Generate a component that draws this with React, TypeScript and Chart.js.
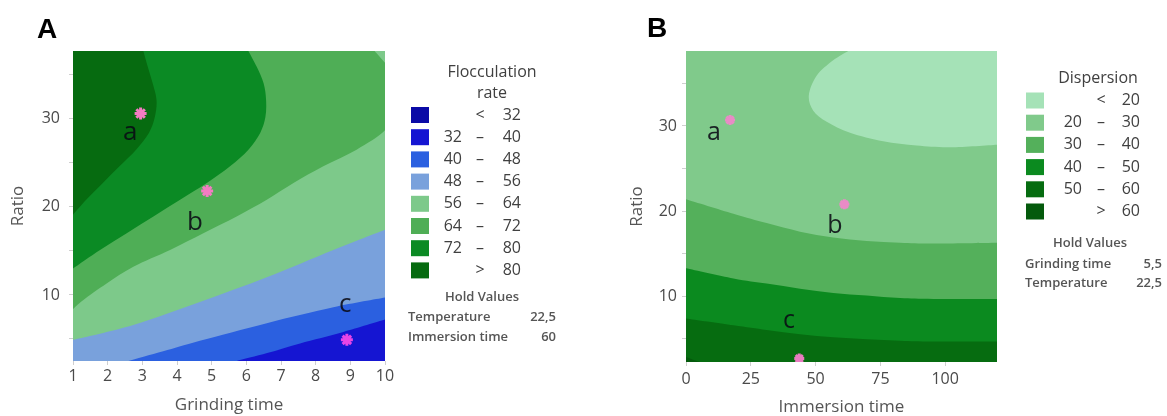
import React, { useEffect, useRef } from 'react';
import { Chart, registerables } from 'chart.js';

Chart.register(...registerables);

type Pt = [number, number];

// ---------------- Panel A : Flocculation rate ----------------
const grindingRangeA: Pt = [1, 10];
const ratioRangeA: Pt = [2.5, 37.7];
const grindingStepA = 1;
const ratioStep = 5;
const levelsA = [32, 40, 48, 56, 64, 72, 80];
const colorsA = ['#0a0aa6', '#1515d2', '#2b60e0', '#79a1dc', '#7dc98a', '#4fae56', '#0b8a24', '#066b10'];
// contour lines: [Grinding time, Ratio]
const contourA40: Pt[] = [[5.72, 2.5], [6.6, 3.4], [7.55, 4.5], [8.8, 5.8], [10, 7.2]];
const contourA48: Pt[] = [[2.6, 2.5], [3.6, 3.6], [4.66, 4.8], [6.59, 6.8], [8.51, 8.6], [10, 9.7]];
const contourA56: Pt[] = [[1, 4.9], [2.74, 6.6], [4.66, 9.2], [6.59, 12.0], [8.51, 15.1], [10, 17.4]];
const contourA64: Pt[] = [[1, 8.4], [1.29, 9.4], [1.97, 11.3], [2.74, 13.2], [3.8, 15.1], [4.76, 17.0], [5.72, 18.9], [6.59, 20.8], [7.36, 22.7], [8.22, 24.6], [9.18, 26.5], [10, 28.7], [10.3, 31], [10.4, 33], [10.2, 35.3], [9.7, 37.7]];
const contourA72: Pt[] = [[1, 13.0], [1.78, 15.1], [2.55, 17.0], [3.32, 18.9], [4.09, 20.8], [4.86, 22.7], [5.53, 24.6], [6.06, 26.5], [6.4, 28.4], [6.55, 30.2], [6.57, 32.1], [6.5, 34.0], [6.3, 35.9], [6.06, 37.7]];
const contourA80: Pt[] = [[1, 19.1], [1.38, 20.8], [1.86, 22.7], [2.34, 24.6], [2.82, 26.5], [3.19, 28.4], [3.36, 30.2], [3.41, 32.1], [3.3, 34.0], [3.15, 36.0], [3.03, 37.7]];
const pointXA = [2.95, 4.87, 8.9];
const pointYA = [30.6, 21.8, 4.9];
const pointColorA = ['#f27cc2', '#f27cc2', '#e845e6'];
const letterA = ['a', 'b', 'c'];
const letterXA = [2.65, 4.52, 8.85];
const letterYA = [27.6, 17.4, 8.1];
const holdNamesA = ['Temperature', 'Immersion time'];
const holdValuesA = ['22,5', '60'];

// ---------------- Panel B : Dispersion ----------------
const immersionRangeB: Pt = [0, 120];
const ratioRangeB: Pt = [2.3, 38.8];
const immersionStepB = 25;
const levelsB = [20, 30, 40, 50, 60];
const colorsB = ['#a5e2b7', '#80ca8b', '#54b05b', '#0b8a1f', '#066c10', '#045a0c'];
// contour lines: [Immersion time, Ratio]
const contourB20: Pt[] = [[62.6, 38.8], [56.8, 37.7], [50.4, 35.9], [47.4, 33.6], [49.1, 31.8], [54.3, 30.5], [63.3, 29.2], [76.1, 28.2], [89, 27.7], [102, 27.5], [120, 27.8]];
const contourB30: Pt[] = [[0, 21.4], [18.3, 19.7], [31.1, 18.6], [44, 17.6], [56.8, 16.9], [69.7, 16.5], [82.6, 16.3], [95.4, 16.2], [120, 16.3]];
const contourB40: Pt[] = [[0, 13.3], [18.3, 12.1], [31.1, 11.5], [44, 10.9], [56.8, 10.4], [69.7, 10.1], [82.6, 9.8], [95.4, 9.7], [120, 9.7]];
const contourB50: Pt[] = [[0, 7.4], [18.3, 6.6], [31.1, 6.05], [44, 5.55], [56.8, 5.2], [69.7, 4.96], [82.6, 4.8], [95.4, 4.7], [120, 4.7]];
const contourB60: Pt[] = [[0, 2.9], [2.5, 2.6], [5.4, 2.3]];
const pointXB = [17.0, 61.1, 43.7];
const pointYB = [30.7, 20.8, 2.7];
const pointColorB = ['#e98bc6', '#e98bc6', '#e87cc0'];
const letterB = ['a', 'b', 'c'];
const letterXB = [10.8, 57.5, 39.7];
const letterYB = [28.3, 17.4, 6.25];
const holdNamesB = ['Grinding time', 'Temperature'];
const holdValuesB = ['5,5', '22,5'];

// ---------------- helpers ----------------
const FONT = '"Open Sans", "Noto Sans", sans-serif';
const TEXT = '#4a4a4a';

type Region = { color: string; curve: Pt[]; close: Pt[] };

function smoothPath(ctx: CanvasRenderingContext2D, pts: Pt[]) {
  const n = pts.length;
  ctx.moveTo(pts[0][0], pts[0][1]);
  for (let i = 0; i < n - 1; i++) {
    const p0 = pts[Math.max(i - 1, 0)];
    const p1 = pts[i];
    const p2 = pts[i + 1];
    const p3 = pts[Math.min(i + 2, n - 1)];
    ctx.bezierCurveTo(
      p1[0] + (p2[0] - p0[0]) / 6, p1[1] + (p2[1] - p0[1]) / 6,
      p2[0] - (p3[0] - p1[0]) / 6, p2[1] - (p3[1] - p1[1]) / 6,
      p2[0], p2[1]
    );
  }
}

function contourPlugin(base: string, regions: Region[]) {
  return {
    id: 'contourFill',
    beforeDatasetsDraw(chart: any) {
      const { ctx, chartArea: a, scales } = chart;
      const px = (p: Pt): Pt => [scales.x.getPixelForValue(p[0]), scales.y.getPixelForValue(p[1])];
      ctx.save();
      ctx.beginPath();
      ctx.rect(a.left, a.top, a.right - a.left, a.bottom - a.top);
      ctx.clip();
      ctx.fillStyle = base;
      ctx.fillRect(a.left, a.top, a.right - a.left, a.bottom - a.top);
      for (const r of regions) {
        ctx.beginPath();
        smoothPath(ctx, r.curve.map(px));
        for (const c of r.close) {
          const q = px(c);
          ctx.lineTo(q[0], q[1]);
        }
        ctx.closePath();
        ctx.fillStyle = r.color;
        ctx.fill();
      }
      ctx.restore();
    },
  };
}

function lettersPlugin(texts: string[], xs: number[], ys: number[], size: number) {
  return {
    id: 'pointLetters',
    afterDatasetsDraw(chart: any) {
      const { ctx, scales } = chart;
      ctx.save();
      ctx.font = `${size}px ${FONT}`;
      ctx.fillStyle = 'rgba(10,10,20,0.88)';
      ctx.textAlign = 'center';
      ctx.textBaseline = 'alphabetic';
      texts.forEach((t, i) => {
        ctx.fillText(t, scales.x.getPixelForValue(xs[i]), scales.y.getPixelForValue(ys[i]));
      });
      ctx.restore();
    },
  };
}

type LegendSpec = {
  panel: string; panelX: number; panelY: number;
  title: string[]; titleX: number; titleY: number[];
  colors: string[]; lows: string[]; signs: string[]; highs: string[];
  rowY: number; rowStep: number; boxX: number;
  lowRight: number; signX: number; highRight: number;
  holdX: number; holdY: number; holdNames: string[]; holdValues: string[];
  holdLabelX: number; holdValueRight: number; holdRowY: number[];
};

function legendPlugin(s: LegendSpec) {
  return {
    id: 'sideLegend',
    afterDraw(chart: any) {
      const ctx: CanvasRenderingContext2D = chart.ctx;
      ctx.save();
      ctx.fillStyle = '#000';
      ctx.font = `bold 28px "Liberation Sans", Arial, sans-serif`;
      ctx.textAlign = 'left';
      ctx.textBaseline = 'alphabetic';
      ctx.fillText(s.panel, s.panelX, s.panelY);

      ctx.fillStyle = '#404040';
      ctx.font = `16px ${FONT}`;
      ctx.textBaseline = 'middle';
      ctx.textAlign = 'center';
      s.title.forEach((t, i) => ctx.fillText(t, s.titleX, s.titleY[i]));
      s.colors.forEach((c, i) => {
        const y = s.rowY + i * s.rowStep;
        ctx.fillStyle = c;
        ctx.fillRect(s.boxX, y - 8, 18, 16);
        ctx.fillStyle = '#404040';
        ctx.textAlign = 'right';
        if (s.lows[i]) ctx.fillText(s.lows[i], s.lowRight, y);
        ctx.fillText(s.highs[i], s.highRight, y);
        ctx.textAlign = 'center';
        ctx.fillText(s.signs[i], s.signX, y);
      });
      ctx.fillStyle = '#555';
      ctx.font = `600 13px ${FONT}`;
      ctx.textAlign = 'center';
      ctx.fillText('Hold Values', s.holdX, s.holdY);
      s.holdNames.forEach((n, i) => {
        ctx.textAlign = 'left';
        ctx.fillText(n, s.holdLabelX, s.holdRowY[i]);
        ctx.textAlign = 'right';
        ctx.fillText(s.holdValues[i], s.holdValueRight, s.holdRowY[i]);
      });
      ctx.restore();
    },
  };
}

function legendRows(levels: number[]) {
  const lows = [''].concat(levels.slice(0, levels.length - 1).map(String), ['']);
  const highs = levels.map(String).concat([String(levels[levels.length - 1])]);
  const signs = levels.map((_, i) => (i === 0 ? '<' : '–')).concat(['>']);
  return { lows, highs, signs };
}

function axisFont(size: number) {
  return { family: FONT, size, weight: 'normal' as const };
}

function buildChart(
  canvas: HTMLCanvasElement,
  opts: {
    xRange: Pt; yRange: Pt; xStep: number; xTitle: string;
    stars: { x: number[]; y: number[]; colors: string[]; radius: number };
    padding: { left: number; right: number; top: number };
    yWidth: number; xHeight: number; xTickPad: number; yTickPad: number;
    yTitlePad: number; xTitlePad: number;
    plugins: any[];
  }
) {
  const tickGrid = { drawOnChartArea: false, drawTicks: true, tickLength: 4, color: '#cfcfcf' };
  return new Chart(canvas, {
    type: 'scatter',
    data: {
      datasets: [
        {
          data: opts.stars.x.map((x, i) => ({ x, y: opts.stars.y[i] })),
          pointStyle: 'star',
          radius: opts.stars.radius,
          borderWidth: 3,
          borderColor: opts.stars.colors,
          backgroundColor: opts.stars.colors,
        } as any,
      ],
    },
    options: {
      animation: false,
      responsive: false,
      devicePixelRatio: 1,
      layout: { padding: { left: opts.padding.left, right: opts.padding.right, top: opts.padding.top, bottom: 0 } },
      plugins: { legend: { display: false }, tooltip: { enabled: false }, title: { display: false } },
      scales: {
        x: {
          type: 'linear',
          min: opts.xRange[0],
          max: opts.xRange[1],
          border: { display: false },
          grid: tickGrid,
          ticks: {
            stepSize: opts.xStep,
            includeBounds: false,
            autoSkip: false,
            maxRotation: 0,
            padding: opts.xTickPad,
            color: TEXT,
            font: axisFont(16),
          },
          title: {
            display: true,
            text: opts.xTitle,
            color: '#555',
            font: { family: FONT, size: 17, lineHeight: 1 },
            padding: { top: 0, bottom: opts.xTitlePad },
          },
          afterFit: (s: any) => { s.height = opts.xHeight; },
        },
        y: {
          type: 'linear',
          min: opts.yRange[0],
          max: opts.yRange[1],
          border: { display: false },
          grid: tickGrid,
          ticks: {
            stepSize: ratioStep,
            includeBounds: false,
            autoSkip: false,
            padding: opts.yTickPad,
            color: TEXT,
            font: axisFont(16),
            callback: (v: any) => (Number(v) % 10 === 0 ? String(v) : ''),
          },
          title: {
            display: true,
            text: 'Ratio',
            color: '#555',
            font: { family: FONT, size: 17, lineHeight: 1.2 },
            padding: { top: opts.yTitlePad, bottom: 0 },
          },
          afterFit: (s: any) => { s.width = opts.yWidth; },
        },
      },
    } as any,
    plugins: opts.plugins,
  });
}

export default function App() {
  const refA = useRef<HTMLCanvasElement>(null);
  const refB = useRef<HTMLCanvasElement>(null);

  useEffect(() => {
    const [xa0, xa1] = grindingRangeA;
    const [ya0, ya1] = ratioRangeA;
    const regionsA: Region[] = [
      { color: colorsA[2], curve: contourA40, close: [[xa1 + 1, ya1 + 1], [xa0 - 1, ya1 + 1], [xa0 - 1, ya0 - 1]] },
      { color: colorsA[3], curve: contourA48, close: [[xa1 + 1, ya1 + 1], [xa0 - 1, ya1 + 1], [xa0 - 1, ya0 - 1]] },
      { color: colorsA[4], curve: contourA56, close: [[xa1 + 1, ya1 + 1], [xa0 - 1, ya1 + 1]] },
      { color: colorsA[5], curve: contourA64, close: [[xa0 - 1, ya1 + 1]] },
      { color: colorsA[6], curve: contourA72, close: [[xa0 - 1, ya1 + 1]] },
      { color: colorsA[7], curve: contourA80, close: [[xa0 - 1, ya1 + 1]] },
    ];
    const rowsA = legendRows(levelsA);
    const chartA = buildChart(refA.current!, {
      xRange: grindingRangeA, yRange: ratioRangeA, xStep: grindingStepA, xTitle: 'Grinding time',
      stars: { x: pointXA, y: pointYA, colors: pointColorA, radius: 6 },
      padding: { left: 0, right: 205, top: 51 },
      yWidth: 73, xHeight: 55, xTickPad: 2, yTickPad: 9, yTitlePad: 8, xTitlePad: 2.5,
      plugins: [
        contourPlugin(colorsA[1], regionsA),
        lettersPlugin(letterA, letterXA, letterYA, 26),
        legendPlugin({
          panel: 'A', panelX: 37, panelY: 38,
          title: ['Flocculation', 'rate'], titleX: 492, titleY: [72, 93],
          colors: colorsA, ...rowsA,
          rowY: 115, rowStep: 22.2, boxX: 411, lowRight: 462, signX: 480, highRight: 521,
          holdX: 482, holdY: 297, holdNames: holdNamesA, holdValues: holdValuesA,
          holdLabelX: 408, holdValueRight: 556, holdRowY: [317, 337],
        }),
      ],
    });

    const [xb0, xb1] = immersionRangeB;
    const [yb0, yb1] = ratioRangeB;
    const regionsB: Region[] = [
      { color: colorsB[0], curve: contourB20, close: [[xb1 + 5, yb1 + 1]] },
      { color: colorsB[2], curve: contourB30, close: [[xb1 + 5, yb0 - 1], [xb0 - 5, yb0 - 1]] },
      { color: colorsB[3], curve: contourB40, close: [[xb1 + 5, yb0 - 1], [xb0 - 5, yb0 - 1]] },
      { color: colorsB[4], curve: contourB50, close: [[xb1 + 5, yb0 - 1], [xb0 - 5, yb0 - 1]] },
      { color: colorsB[5], curve: contourB60, close: [[xb0 - 5, yb0 - 1]] },
    ];
    const rowsB = legendRows(levelsB);
    const chartB = buildChart(refB.current!, {
      xRange: immersionRangeB, yRange: ratioRangeB, xStep: immersionStepB, xTitle: 'Immersion time',
      stars: { x: pointXB, y: pointYB, colors: pointColorB, radius: 5 },
      padding: { left: 28, right: 170, top: 51 },
      yWidth: 68, xHeight: 54, xTickPad: 4, yTickPad: 5, yTitlePad: 9, xTitlePad: 0,
      plugins: [
        contourPlugin(colorsB[1], regionsB),
        lettersPlugin(letterB, letterXB, letterYB, 25),
        legendPlugin({
          panel: 'B', panelX: 57, panelY: 37,
          title: ['Dispersion'], titleX: 508, titleY: [78],
          colors: colorsB, ...rowsB,
          rowY: 100.5, rowStep: 22.2, boxX: 436, lowRight: 492, signX: 511, highRight: 550,
          holdX: 500, holdY: 243, holdNames: holdNamesB, holdValues: holdValuesB,
          holdLabelX: 435, holdValueRight: 572, holdRowY: [264, 283],
        }),
      ],
    });

    return () => {
      chartA.destroy();
      chartB.destroy();
    };
  }, []);

  return (
    <div style={{ position: 'absolute', left: 0, top: 0, width: 1167, height: 416, background: '#fff' }}>
      <canvas ref={refA} width={590} height={416} style={{ position: 'absolute', left: 0, top: 0 }} />
      <canvas ref={refB} width={577} height={416} style={{ position: 'absolute', left: 590, top: 0 }} />
    </div>
  );
}
